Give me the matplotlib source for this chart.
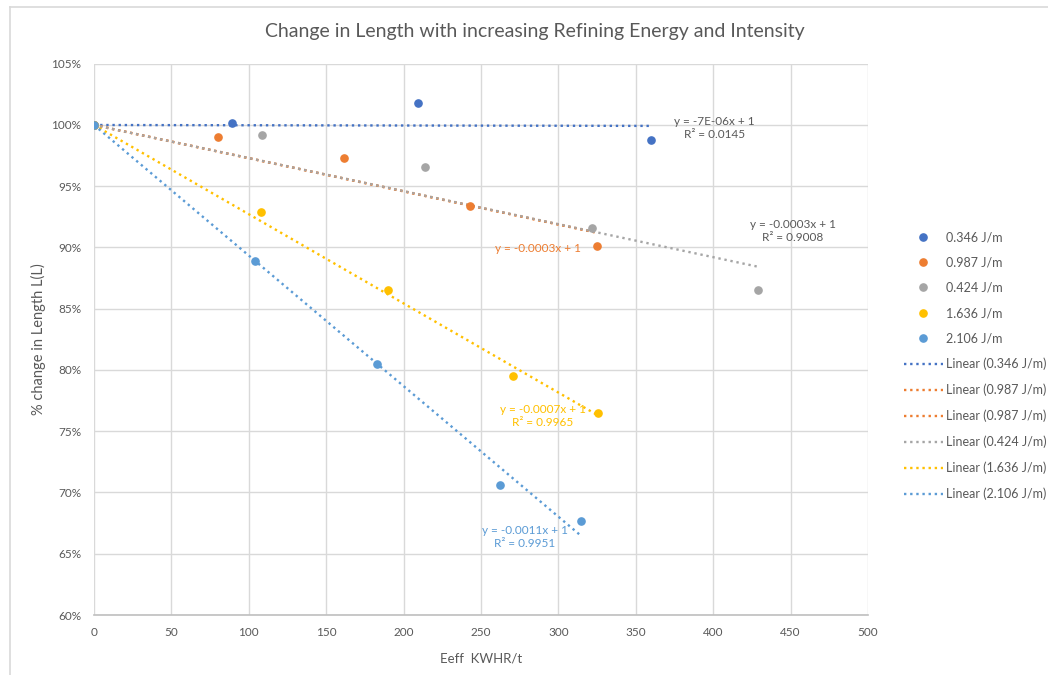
import numpy as np
import matplotlib
matplotlib.use("Agg")
import matplotlib.pyplot as plt
from matplotlib.lines import Line2D

plt.rcParams["font.family"] = ["Lato", "DejaVu Sans"]

# data (energy KWHR/t, fraction of original length)
SERIES = ["0.346 J/m", "0.987 J/m", "0.424 J/m", "1.636 J/m", "2.106 J/m"]
COLORS = ["#4472C4", "#ED7D31", "#A5A5A5", "#FFC000", "#5B9BD5"]

x_0346 = [0, 89, 209.5, 360]
y_0346 = [1.0, 1.002, 1.018, 0.988]
x_0987 = [0, 80, 161.5, 243, 325]
y_0987 = [1.0, 0.990, 0.973, 0.934, 0.901]
x_0424 = [0, 108.5, 214, 321.7, 429]
y_0424 = [1.0, 0.992, 0.966, 0.916, 0.865]
x_1636 = [0, 108, 190, 270.7, 325.6]
y_1636 = [1.0, 0.929, 0.865, 0.795, 0.765]
x_2106 = [0, 104, 183, 262, 314.6]
y_2106 = [1.0, 0.889, 0.805, 0.706, 0.677]

XS = [x_0346, x_0987, x_0424, x_1636, x_2106]
YS = [y_0346, y_0987, y_0424, y_1636, y_2106]

# trendline labels as shown on the chart
EQ_TEXT = ["y = -7E-06x + 1\nR² = 0.0145", "y = -0.0003x + 1",
           "y = -0.0003x + 1\nR² = 0.9008", "y = -0.0007x + 1\nR² = 0.9965",
           "y = -0.0011x + 1\nR² = 0.9951"]
EQ_POS = [(401, 1.0074), (286.8, 0.9038), (451.6, 0.9234), (290, 0.7725), (278.4, 0.6737)]
EQ_COLORS = ["#595959", "#ED7D31", "#595959", "#FFC000", "#5B9BD5"]

TXT = "#595959"
GRID = "#D9D9D9"


def fit_slope(x, y):
    # linear trend with intercept fixed at 1
    x = np.asarray(x, float)
    y = np.asarray(y, float)
    return np.sum(x * (y - 1)) / np.sum(x * x)


fig = plt.figure(figsize=(10.48, 6.75), dpi=100)
ax = fig.add_axes([94 / 1048, 1 - 615 / 675, 774 / 1048, 551.25 / 675])

dot = (0, (1, 1.6))
trend = {}
for xs, ys, c, name in zip(XS, YS, COLORS, SERIES):
    m = fit_slope(xs, ys)
    xx = np.array([0, max(xs)])
    trend[name] = (xx, 1 + m * xx, c)

# draw order: orange twice, then gray over it
line_handles = []
for name in ["0.346 J/m", "0.987 J/m", "0.987 J/m", "0.424 J/m", "1.636 J/m", "2.106 J/m"]:
    xx, yy, c = trend[name]
    h, = ax.plot(xx, yy, linestyle=dot, color=c, lw=1.7, zorder=2,
                 label=f"Linear ({name})")
    line_handles.append(h)

pt_handles = []
for xs, ys, c, name in zip(XS, YS, COLORS, SERIES):
    h, = ax.plot(xs, ys, "o", color=c, ms=5.2, ls="none", zorder=3, label=name)
    pt_handles.append(h)

for txt, (tx, ty), c in zip(EQ_TEXT, EQ_POS, EQ_COLORS):
    ax.text(tx, ty, txt, color=c, fontsize=8.5, ha="center", va="top",
            linespacing=1.25, zorder=4)

ax.set_xlim(0, 500)
ax.set_ylim(0.60, 1.05)
ax.set_xticks(np.arange(0, 501, 50))
ax.set_yticks(np.arange(0.60, 1.051, 0.05))
ax.set_yticklabels([f"{int(round(v * 100))}%" for v in np.arange(0.60, 1.051, 0.05)])
ax.grid(True, color=GRID, lw=1.0)
ax.set_axisbelow(True)
for s in ["top", "right", "left"]:
    ax.spines[s].set_visible(False)
ax.spines["bottom"].set_color("#BFBFBF")
ax.spines["bottom"].set_linewidth(1.2)
ax.tick_params(length=0, colors=TXT, labelsize=8.5, pad=9)

ax.set_xlabel("Eeff  KWHR/t", color=TXT, fontsize=9.5, labelpad=10)
ax.set_ylabel("% change in Length L(L)", color=TXT, fontsize=10.5, labelpad=4)

fig.text(535 / 1048, 1 - 32 / 675, "Change in Length with increasing Refining Energy and Intensity",
         ha="center", va="center", color=TXT, fontsize=14)

leg = fig.legend(pt_handles + line_handles,
                 [h.get_label() for h in pt_handles + line_handles],
                 loc="upper left", bbox_to_anchor=(899 / 1048, 1 - 226 / 675),
                 frameon=False, fontsize=9, labelcolor=TXT,
                 handlelength=3.1, handletextpad=0.25, labelspacing=1.07,
                 borderaxespad=0)

# chart border (top and left visible in the reference)
fig.add_artist(Line2D([10 / 1048, 1], [1 - 7 / 675, 1 - 7 / 675], color="#D9D9D9", lw=1.2))
fig.add_artist(Line2D([10 / 1048, 10 / 1048], [0, 1 - 7 / 675], color="#D9D9D9", lw=1.2))

fig.savefig("out.png", dpi=100)
